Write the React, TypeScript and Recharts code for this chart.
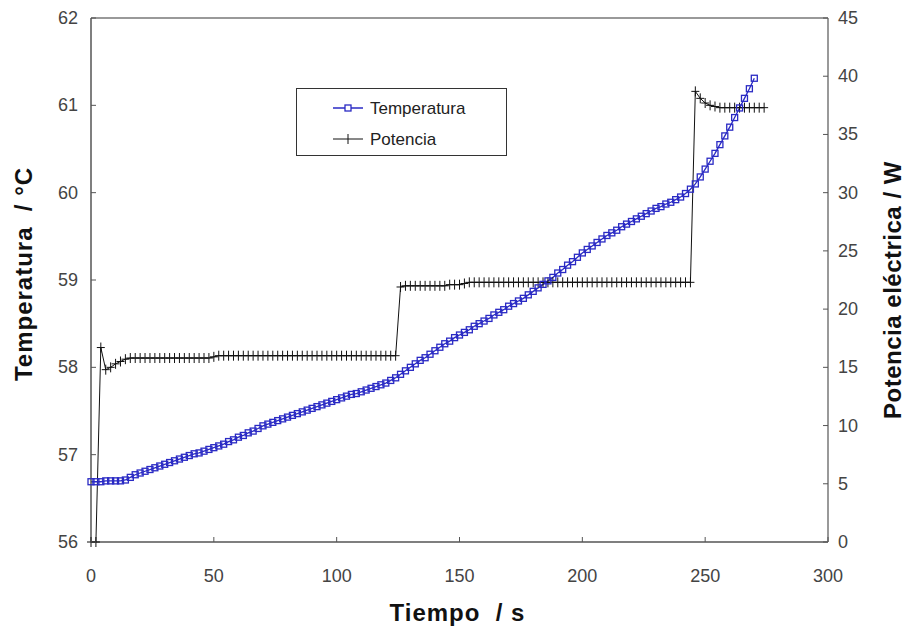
import React from 'react';
import { ComposedChart, Line, XAxis, YAxis, ReferenceLine } from 'recharts';

// time axis (s), both series sampled every 2 s
const tempTimes = [
  0, 2, 4, 6, 8, 10, 12, 14, 16, 18, 20, 22, 24, 26, 28, 30, 32, 34, 36, 38,
  40, 42, 44, 46, 48, 50, 52, 54, 56, 58, 60, 62, 64, 66, 68, 70, 72, 74, 76, 78,
  80, 82, 84, 86, 88, 90, 92, 94, 96, 98, 100, 102, 104, 106, 108, 110, 112, 114, 116, 118,
  120, 122, 124, 126, 128, 130, 132, 134, 136, 138, 140, 142, 144, 146, 148, 150, 152, 154, 156, 158,
  160, 162, 164, 166, 168, 170, 172, 174, 176, 178, 180, 182, 184, 186, 188, 190, 192, 194, 196, 198,
  200, 202, 204, 206, 208, 210, 212, 214, 216, 218, 220, 222, 224, 226, 228, 230, 232, 234, 236, 238,
  240, 242, 244, 246, 248, 250, 252, 254, 256, 258, 260, 262, 264, 266, 268, 270,
];

const temperatura = [
  56.69, 56.69, 56.69, 56.70, 56.70, 56.70, 56.70, 56.71, 56.74, 56.77, 56.79, 56.81, 56.83, 56.85, 56.87, 56.89, 56.91, 56.93, 56.95, 56.97,
  56.99, 57.01, 57.02, 57.04, 57.06, 57.08, 57.10, 57.12, 57.15, 57.17, 57.20, 57.22, 57.25, 57.27, 57.30, 57.33, 57.35, 57.37, 57.39, 57.41,
  57.43, 57.45, 57.47, 57.49, 57.51, 57.53, 57.55, 57.57, 57.59, 57.61, 57.63, 57.65, 57.67, 57.69, 57.70, 57.72, 57.74, 57.76, 57.78, 57.80,
  57.82, 57.85, 57.88, 57.92, 57.96, 58.00, 58.04, 58.08, 58.11, 58.15, 58.19, 58.23, 58.27, 58.30, 58.34, 58.37, 58.40, 58.43, 58.47, 58.50,
  58.53, 58.56, 58.60, 58.63, 58.66, 58.70, 58.73, 58.76, 58.79, 58.83, 58.87, 58.91, 58.95, 58.99, 59.03, 59.08, 59.12, 59.17, 59.21, 59.26,
  59.31, 59.35, 59.39, 59.43, 59.47, 59.51, 59.54, 59.57, 59.61, 59.64, 59.67, 59.70, 59.73, 59.76, 59.79, 59.82, 59.84, 59.87, 59.89, 59.92,
  59.95, 59.99, 60.04, 60.10, 60.18, 60.27, 60.36, 60.45, 60.55, 60.65, 60.75, 60.86, 60.97, 61.08, 61.19, 61.31,
];

const powerTimes = [
  0, 2, 4, 6, 8, 10, 12, 14, 16, 18, 20, 22, 24, 26, 28, 30, 32, 34, 36, 38,
  40, 42, 44, 46, 48, 50, 52, 54, 56, 58, 60, 62, 64, 66, 68, 70, 72, 74, 76, 78,
  80, 82, 84, 86, 88, 90, 92, 94, 96, 98, 100, 102, 104, 106, 108, 110, 112, 114, 116, 118,
  120, 122, 124, 126, 128, 130, 132, 134, 136, 138, 140, 142, 144, 146, 148, 150, 152, 154, 156, 158,
  160, 162, 164, 166, 168, 170, 172, 174, 176, 178, 180, 182, 184, 186, 188, 190, 192, 194, 196, 198,
  200, 202, 204, 206, 208, 210, 212, 214, 216, 218, 220, 222, 224, 226, 228, 230, 232, 234, 236, 238,
  240, 242, 244, 246, 248, 250, 252, 254, 256, 258, 260, 262, 264, 266, 268, 270, 272, 274,
];

const potencia = [
  0, 0, 16.7, 14.8, 15.0, 15.3, 15.5, 15.7, 15.8, 15.8, 15.8, 15.8, 15.8, 15.8, 15.8, 15.8, 15.8, 15.8, 15.8, 15.8,
  15.8, 15.8, 15.8, 15.8, 15.8, 15.9, 16.0, 16.0, 16.0, 16.0, 16.0, 16.0, 16.0, 16.0, 16.0, 16.0, 16.0, 16.0, 16.0, 16.0,
  16.0, 16.0, 16.0, 16.0, 16.0, 16.0, 16.0, 16.0, 16.0, 16.0, 16.0, 16.0, 16.0, 16.0, 16.0, 16.0, 16.0, 16.0, 16.0, 16.0,
  16.0, 16.0, 16.0, 21.9, 22.0, 22.0, 22.0, 22.0, 22.0, 22.0, 22.0, 22.0, 22.0, 22.1, 22.1, 22.1, 22.2, 22.3, 22.3, 22.3,
  22.3, 22.3, 22.3, 22.3, 22.3, 22.3, 22.3, 22.3, 22.3, 22.3, 22.3, 22.3, 22.3, 22.3, 22.3, 22.3, 22.3, 22.3, 22.3, 22.3,
  22.3, 22.3, 22.3, 22.3, 22.3, 22.3, 22.3, 22.3, 22.3, 22.3, 22.3, 22.3, 22.3, 22.3, 22.3, 22.3, 22.3, 22.3, 22.3, 22.3,
  22.3, 22.3, 22.3, 38.7, 38.1, 37.7, 37.5, 37.4, 37.3, 37.3, 37.3, 37.3, 37.3, 37.3, 37.3, 37.3, 37.3, 37.3,
];

const xTicks = [0, 50, 100, 150, 200, 250, 300];
const leftTicks = [56, 57, 58, 59, 60, 61, 62];
const rightTicks = [0, 5, 10, 15, 20, 25, 30, 35, 40, 45];

const BLUE = '#2a2ac4';
const FONT = '"Liberation Sans", Arial, sans-serif';
const AXIS = '#555';

// merge both series onto one time table
const data = powerTimes.map((t, k) => {
  const i = tempTimes.indexOf(t);
  return {
    t,
    Temperatura: i >= 0 ? temperatura[i] : undefined,
    Potencia: potencia[k],
  };
});

const SquareDot = (props: any) => {
  const { cx, cy } = props;
  if (cx == null || cy == null || props.value == null) return null;
  return <rect x={cx - 3} y={cy - 3} width={6} height={6} fill="none" stroke={BLUE} strokeWidth={1.3} />;
};

const PlusDot = (props: any) => {
  const { cx, cy } = props;
  if (cx == null || cy == null) return null;
  return (
    <path d={`M${cx - 4},${cy}H${cx + 4}M${cx},${cy - 5}V${cy + 5}`} stroke="#111" strokeWidth={1} fill="none" />
  );
};

const tickText = { fontFamily: FONT, fontSize: 18, fill: '#444' };

const LeftTick = ({ x, y, payload }: any) => (
  <g>
    <line x1={x + 13} x2={x + 18} y1={y} y2={y} stroke={AXIS} />
    <text x={x} y={y} dy={6} textAnchor="end" {...tickText}>{payload.value}</text>
  </g>
);

const RightTick = ({ x, y, payload }: any) => (
  <g>
    <line x1={x - 10} x2={x - 15} y1={y} y2={y} stroke={AXIS} />
    <text x={x} y={y} dy={6} textAnchor="start" {...tickText}>{payload.value}</text>
  </g>
);

const BottomTick = ({ x, y, payload }: any) => (
  <g>
    <line x1={x} x2={x} y1={y} y2={y - 5} stroke={AXIS} />
    <text x={x} y={y} dy={40} textAnchor="middle" {...tickText}>{payload.value}</text>
  </g>
);

const titleStyle = { fontFamily: FONT, fontSize: 24, fontWeight: 700, fill: '#111' };

// axis titles placed relative to the axis viewBox
const LeftTitle = ({ viewBox }: any) => {
  const cx = viewBox.x - 7;
  const cy = viewBox.y + viewBox.height / 2 - 6;
  return (
    <text x={cx} y={cy} transform={`rotate(-90 ${cx} ${cy})`} textAnchor="middle" dy={8} letterSpacing={1} {...titleStyle}>
      {'Temperatura\u00a0\u00a0/ °C'}
    </text>
  );
};

const RightTitle = ({ viewBox }: any) => {
  const cx = viewBox.x + viewBox.width + 15;
  const cy = viewBox.y + viewBox.height / 2 + 10;
  return (
    <text x={cx} y={cy} transform={`rotate(-90 ${cx} ${cy})`} textAnchor="middle" dy={8} letterSpacing={0.5} {...titleStyle}>
      {'Potencia eléctrica / W'}
    </text>
  );
};

const BottomTitle = ({ viewBox }: any) => (
  <text x={viewBox.x + viewBox.width / 2 - 2} y={viewBox.y + 79} textAnchor="middle" letterSpacing={1} {...titleStyle}>
    {'Tiempo\u00a0\u00a0/ s'}
  </text>
);

const LegendBox = () => (
  <div
    style={{
      position: 'absolute',
      left: 296,
      top: 88,
      width: 211,
      height: 68,
      border: '1.5px solid #333',
      background: '#fff',
      boxSizing: 'border-box',
    }}
  >
    <svg width={208} height={65} style={{ display: 'block' }}>
      <line x1={36} x2={66} y1={19} y2={19} stroke={BLUE} strokeWidth={1.5} />
      <rect x={48} y={16} width={6} height={6} fill="#fff" stroke={BLUE} strokeWidth={1.3} />
      <text x={73} y={25} fontFamily={FONT} fontSize={17} fill="#222">Temperatura</text>
      <line x1={36} x2={66} y1={50} y2={50} stroke="#111" strokeWidth={1} />
      <path d="M51,45V55" stroke="#111" />
      <text x={73} y={56} fontFamily={FONT} fontSize={17} fill="#222">Potencia</text>
    </svg>
  </div>
);

export default function App() {
  return (
    <div style={{ position: 'absolute', left: 0, top: 0, width: 907, height: 633, background: '#fff' }}>
      <ComposedChart
        width={907}
        height={633}
        data={data}
        margin={{ top: 18, right: 29, bottom: 41, left: 31 }}
      >
        <XAxis
          xAxisId="b"
          dataKey="t"
          type="number"
          domain={[0, 300]}
          ticks={xTicks}
          interval={0}
          height={50}
          stroke={AXIS}
          strokeWidth={1.5}
          tickLine={false}
          tickSize={0}
          tickMargin={0}
          tick={<BottomTick />}
          label={<BottomTitle />}
        />
        <YAxis
          yAxisId="l"
          domain={[56, 62]}
          ticks={leftTicks}
          interval={0}
          width={60}
          stroke={AXIS}
          strokeWidth={1.5}
          tickLine={false}
          tickSize={0}
          tickMargin={13}
          tick={<LeftTick />}
          label={<LeftTitle />}
        />
        <YAxis
          yAxisId="r"
          orientation="right"
          domain={[0, 45]}
          ticks={rightTicks}
          interval={0}
          width={50}
          stroke="#777"
          strokeWidth={1.5}
          tickLine={false}
          tickSize={0}
          tickMargin={10}
          tick={<RightTick />}
          label={<RightTitle />}
        />
        <ReferenceLine xAxisId="b" yAxisId="l" y={62} stroke="#777" strokeWidth={1.5} />
        <Line
          xAxisId="b"
          yAxisId="r"
          dataKey="Potencia"
          stroke="#111"
          strokeWidth={1}
          dot={<PlusDot />}
          isAnimationActive={false}
        />
        <Line
          xAxisId="b"
          yAxisId="l"
          dataKey="Temperatura"
          stroke={BLUE}
          strokeWidth={1.3}
          dot={<SquareDot />}
          connectNulls={false}
          isAnimationActive={false}
        />
      </ComposedChart>
      <LegendBox />
    </div>
  );
}
